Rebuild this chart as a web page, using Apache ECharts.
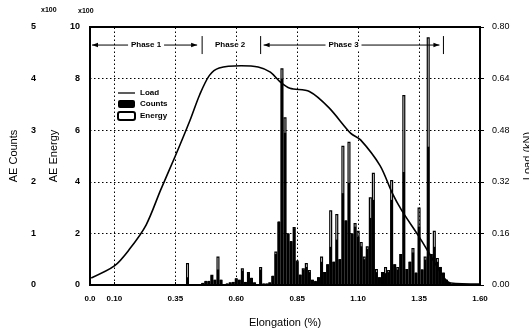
<!DOCTYPE html>
<html>
<head>
<meta charset="utf-8">
<script src="https://cdn.jsdelivr.net/npm/echarts@6/dist/echarts.min.js"></script>
<style>html,body{margin:0;padding:0;background:#fff}#c{width:529px;height:333px}</style>
</head>
<body>
<div id="c"></div>
<script>
// ---- data ----
const binElong = [0.4,0.4125,0.425,0.4375,0.45,0.4625,0.475,0.4875,0.5,0.5125,0.525,0.5375,0.55,0.5625,0.575,0.5875,
0.6,0.6125,0.625,0.6375,0.65,0.6625,0.675,0.6875,0.7,0.7125,0.725,0.7375,0.75,0.7625,0.775,0.7875,
0.8,0.8125,0.825,0.8375,0.85,0.8625,0.875,0.8875,0.9,0.9125,0.925,0.9375,0.95,0.9625,0.975,0.9875,
1.0,1.0125,1.025,1.0375,1.05,1.0625,1.075,1.0875,1.1,1.1125,1.125,1.1375,1.15,1.1625,1.175,1.1875,
1.2,1.2125,1.225,1.2375,1.25,1.2625,1.275,1.2875,1.3,1.3125,1.325,1.3375,1.35,1.3625,1.375,1.3875,
1.4,1.4125,1.425,1.4375,1.45,1.4625,1.475];
// AE Energy (x100)
const aeEnergy = [0.85,0,0,0,0,0.08,0.15,0.15,0.4,0.2,1.1,0.2,0,0.05,0.1,0.12,
0.25,0.2,0.65,0.12,0.5,0.27,0.1,0,0.7,0.05,0.05,0.1,0.35,1.3,2.45,8.4,
6.5,2.0,1.7,2.25,0.95,0.4,0.65,0.85,0.58,0.2,0.15,0.3,1.1,0.5,0.8,2.9,
0.9,2.75,1.0,5.4,2.5,5.55,2.0,2.4,2.1,1.67,1.1,1.5,3.4,4.35,0.62,0.3,
0.5,0.7,0.58,4.07,0.8,0.7,1.2,7.36,0.62,0.9,1.43,0.47,3.0,0.6,1.1,9.6,
1.2,2.1,1.05,0.7,0.47,0.2,0.08];
// AE Counts (x100)
const aeCounts = [0.15,0,0,0,0,0.04,0.08,0.08,0.18,0.1,0.3,0.1,0,0.03,0.05,0.06,
0.13,0.1,0.28,0.06,0.23,0.14,0.05,0,0.3,0.03,0.03,0.05,0.18,0.6,1.23,4.0,
2.95,1.0,0.85,1.1,0.45,0.2,0.3,0.35,0.25,0.1,0.08,0.15,0.45,0.25,0.4,0.74,
0.45,0.88,0.5,1.78,1.25,1.98,1.0,1.13,0.93,0.75,0.5,0.7,1.3,1.65,0.25,0.15,
0.25,0.23,0.25,1.65,0.4,0.3,0.6,2.19,0.31,0.45,0.63,0.24,1.13,0.3,0.49,2.68,
0.6,0.74,0.45,0.35,0.24,0.1,0.04];
// Load (kN)
const loadElong = [0.005,0.10,0.16,0.23,0.29,0.35,0.41,0.45,0.49,0.53,0.62,0.69,0.74,0.78,0.82,0.90,0.98,1.07,1.11,1.19,1.24,1.28,1.35,1.39,1.45,1.48,1.60];
const loadKN    = [0.022,0.059,0.109,0.186,0.295,0.40,0.51,0.59,0.65,0.673,0.68,0.676,0.66,0.63,0.61,0.60,0.55,0.47,0.45,0.37,0.285,0.23,0.15,0.10,0.025,0.006,0.003];
const xTicks = [0, 0.10, 0.35, 0.60, 0.85, 1.10, 1.35, 1.60];
const xGrid = [0.10, 0.35, 0.60, 0.85, 1.10, 1.35];
const phaseNames = ['Phase 1', 'Phase 2', 'Phase 3'];
const phaseBounds = [0.46, 0.70, 1.45];
const phaseLabelAt = [0.23, 0.575, 1.04];
const phaseLevel = 9.3; // on energy axis

const FONT = 'Liberation Sans, Arial, sans-serif';
const chart = echarts.init(document.getElementById('c'), null, {renderer: 'canvas'});
const energyData = binElong.map((x, i) => [x, aeEnergy[i]]);
const countsData = binElong.map((x, i) => [x, aeCounts[i]]);
const loadData = loadElong.map((x, i) => [x, loadKN[i]]);

const xBase = {type: 'value', min: 0, max: 1.6};
chart.setOption({
  animation: false,
  textStyle: {fontFamily: FONT, color: '#000'},
  grid: {left: 90, right: 49, top: 27, bottom: 48, outerBoundsMode: 'none', containLabel: false,
    show: true, borderColor: '#000', borderWidth: 2, backgroundColor: 'transparent'},
  legend: {
    orient: 'vertical', left: 112, top: 84, itemWidth: 17, itemHeight: 8, itemGap: 3,
    textStyle: {fontFamily: FONT, fontSize: 8, fontWeight: 'bold', color: '#000'},
    data: [{name: 'Load', icon: 'path://M0 0H40V3H0Z'}, 'Counts', 'Energy']
  },
  xAxis: [
    Object.assign({}, xBase, {
      name: 'Elongation (%)', nameLocation: 'middle', nameGap: 32,
      nameTextStyle: {fontFamily: FONT, fontSize: 11, color: '#000'},
      axisLine: {lineStyle: {color: '#000', width: 2}},
      axisTick: {show: true, customValues: xTicks, length: 3, inside: true, lineStyle: {color: '#000'}},
      axisLabel: {customValues: xTicks, fontFamily: FONT, fontSize: 8, fontWeight: 'bold', color: '#000', margin: 10,
        formatter: v => v === 0 ? '0.0' : v.toFixed(2)},
      splitLine: {show: false}
    }),
    Object.assign({}, xBase, {show: false})
  ],
  yAxis: [
    {
      type: 'value', min: 0, max: 10, interval: 2, position: 'left',
      name: 'AE Energy', nameLocation: 'middle', nameGap: 26,
      nameTextStyle: {fontFamily: FONT, fontSize: 11, color: '#000'},
      axisLine: {show: true, lineStyle: {color: '#000', width: 2}},
      axisTick: {show: false},
      axisLabel: {fontFamily: FONT, fontSize: 9, fontWeight: 'bold', color: '#000', margin: 10},
      splitLine: {show: true, lineStyle: {color: '#000', width: 1, type: [1.5, 2.5]}}
    },
    {
      type: 'value', min: 0, max: 5, interval: 1, position: 'left', offset: 48,
      name: 'AE Counts', nameLocation: 'middle', nameGap: 23,
      nameTextStyle: {fontFamily: FONT, fontSize: 11, color: '#000'},
      axisLine: {show: false}, axisTick: {show: false},
      axisLabel: {fontFamily: FONT, fontSize: 9, fontWeight: 'bold', color: '#000', margin: 6},
      splitLine: {show: false}
    },
    {
      type: 'value', min: 0, max: 0.8, interval: 0.16, position: 'right',
      name: 'Load (kN)', nameLocation: 'middle', nameGap: 42,
      nameTextStyle: {fontFamily: FONT, fontSize: 11, color: '#000'},
      axisLine: {show: true, lineStyle: {color: '#000', width: 2}},
      axisTick: {show: true, length: 4, lineStyle: {color: '#000'}},
      axisLabel: {fontFamily: FONT, fontSize: 9, color: '#000', margin: 12, formatter: v => v.toFixed(2)},
      splitLine: {show: false}
    }
  ],
  series: [
    {
      name: 'Energy', type: 'bar', xAxisIndex: 0, yAxisIndex: 0, data: energyData,
      barWidth: '100%', z: 2,
      itemStyle: {color: '#fff', borderColor: '#000', borderWidth: 1.2}
    },
    {
      name: 'Counts', type: 'bar', xAxisIndex: 1, yAxisIndex: 1, data: countsData,
      barWidth: '75%', z: 3,
      itemStyle: {color: '#000'}
    },
    {
      name: 'Load', type: 'line', xAxisIndex: 0, yAxisIndex: 2, data: loadData,
      symbol: 'none', smooth: 0.3, z: 5,
      lineStyle: {color: '#000', width: 1.6}, itemStyle: {color: '#000'},
      markLine: {
        silent: true, symbol: 'none', label: {show: false},
        lineStyle: {color: '#000', width: 1, type: [1.5, 2.5]},
        data: xGrid.map(v => ({xAxis: v}))
      }
    }
  ]
});

// ---- phase annotations ----
function px(x, y) { return chart.convertToPixel({xAxisIndex: 0, yAxisIndex: 0}, [x, y]); }
const g = [];
const yP = px(0, phaseLevel)[1];
const black = {stroke: '#000', lineWidth: 1};
function arrow(x1, x2) {
  const dir = x2 > x1 ? 1 : -1;
  g.push({type: 'line', shape: {x1: x1, y1: yP, x2: x2, y2: yP}, style: black, z: 10});
  g.push({type: 'polygon', shape: {points: [[x2, yP], [x2 - dir * 6, yP - 2.2], [x2 - dir * 6, yP + 2.2]]}, style: {fill: '#000'}, z: 10});
}
function bar(x) {
  g.push({type: 'line', shape: {x1: x, y1: yP - 9, x2: x, y2: yP + 9}, style: black, z: 10});
}
const xb = phaseBounds.map(v => px(v, phaseLevel)[0]);
const x0 = px(0, phaseLevel)[0];
const xl = phaseLabelAt.map(v => px(v, phaseLevel)[0]);
phaseNames.forEach((t, i) => {
  g.push({type: 'text', x: xl[i], y: yP, z: 11,
    style: {text: t, fill: '#000', font: 'bold 8px ' + FONT, align: 'center', verticalAlign: 'middle', backgroundColor: '#fff', padding: [0, 2]}});
});
arrow(xl[0] - 18, x0 + 2);
arrow(xl[0] + 18, xb[0] - 5);
bar(xb[0]);
bar(xb[1]);
arrow(xl[2] - 18, xb[1] + 3);
arrow(xl[2] + 18, xb[2] - 4);
bar(xb[2]);
// x100 multipliers
g.push({type: 'text', left: 41, top: 7, style: {text: 'x100', fill: '#000', font: 'bold 7px ' + FONT}});
g.push({type: 'text', left: 78, top: 8, style: {text: 'x100', fill: '#000', font: 'bold 7px ' + FONT}});
chart.setOption({graphic: g});
</script>
</body>
</html>
